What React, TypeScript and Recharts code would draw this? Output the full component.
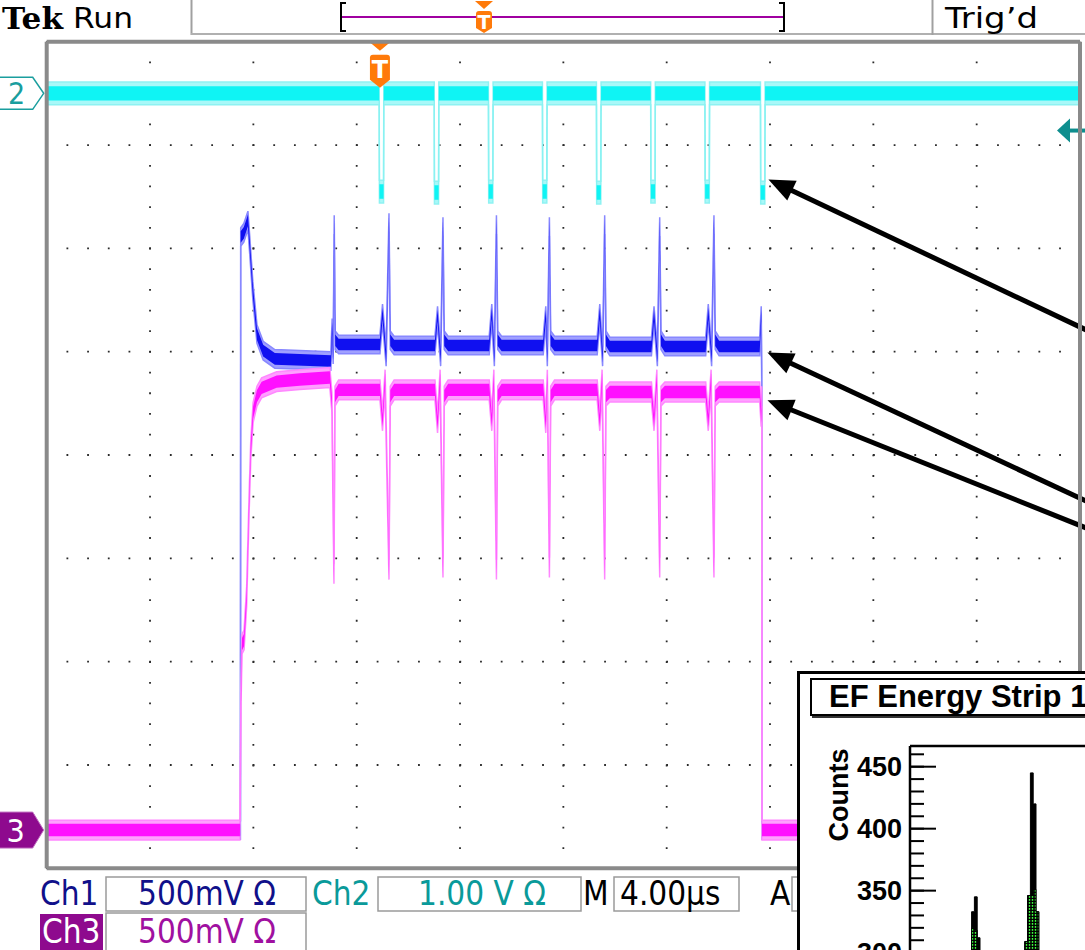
import React from "react";
import { ComposedChart, Area, XAxis, YAxis, CartesianGrid, ReferenceLine } from "recharts";

type Pt = [number, number];

// scope traces: time in µs (4 µs/div), level in volts
// Ch1 / Ch3 at 500 mV/div, Ch2 at 1 V/div
const ch2Trace: Pt[] = [
  [0, 0],
  [12.87, 0], [12.88, -0.95], [13.04, -0.95], [13.05, 0],
  [15.0, 0], [15.01, -0.96], [15.17, -0.96], [15.18, 0],
  [17.1, 0], [17.11, -0.95], [17.27, -0.95], [17.28, 0],
  [19.19, 0], [19.2, -0.95], [19.36, -0.95], [19.37, 0],
  [21.28, 0], [21.29, -0.96], [21.45, -0.96], [21.46, 0],
  [23.38, 0], [23.39, -0.95], [23.55, -0.95], [23.56, 0],
  [25.48, 0], [25.49, -0.95], [25.65, -0.95], [25.66, 0],
  [27.63, 0], [27.64, -0.96], [27.8, -0.96], [27.81, 0],
  [40, 0],
];

const ch1Trace: Pt[] = [
  [0, 0], [7.5, 0],
  [7.51, 2.87], [7.63, 2.89], [7.79, 2.95], [7.86, 2.83], [7.98, 2.61], [8.14, 2.4], [8.38, 2.32], [8.83, 2.28], [11.0, 2.27],
  [11.05, 2.43], [11.09, 2.3], [11.13, 2.93], [11.17, 2.37], [11.3, 2.35],
  [12.9, 2.35], [13.0, 2.5], [13.14, 2.29], [13.25, 2.94], [13.3, 2.37], [13.45, 2.345],
  [15.03, 2.345], [15.13, 2.49], [15.25, 2.29], [15.34, 2.92], [15.39, 2.37], [15.54, 2.345],
  [17.13, 2.345], [17.23, 2.5], [17.33, 2.29], [17.41, 2.93], [17.46, 2.37], [17.61, 2.345],
  [19.22, 2.345], [19.32, 2.49], [19.38, 2.29], [19.46, 2.92], [19.51, 2.37], [19.66, 2.345],
  [21.31, 2.345], [21.41, 2.5], [21.52, 2.29], [21.6, 2.93], [21.65, 2.37], [21.8, 2.34],
  [23.41, 2.34], [23.51, 2.49], [23.64, 2.29], [23.73, 2.92], [23.78, 2.37], [23.93, 2.34],
  [25.51, 2.34], [25.61, 2.5], [25.74, 2.29], [25.83, 2.93], [25.88, 2.37], [26.03, 2.34],
  [27.6, 2.34], [27.66, 2.49], [27.68, 2.19], [27.69, 0], [40, 0],
];

const ch3Trace: Pt[] = [
  [0, 0], [7.48, 0], [7.52, 0.63], [7.56, 0.9], [7.64, 0.92], [7.74, 1.13], [7.84, 1.6], [7.9, 1.84],
  [7.99, 2.02], [8.14, 2.1], [8.32, 2.14], [8.9, 2.17], [9.8, 2.18], [10.96, 2.19],
  [11.04, 2.07], [11.12, 1.24], [11.16, 2.1], [11.3, 2.13],
  [12.9, 2.13], [13.0, 1.98], [13.1, 2.18], [13.25, 1.26], [13.3, 2.1], [13.45, 2.13],
  [15.03, 2.13], [15.13, 1.97], [15.23, 2.18], [15.34, 1.27], [15.39, 2.1], [15.54, 2.13],
  [17.13, 2.13], [17.23, 1.98], [17.31, 2.18], [17.41, 1.26], [17.46, 2.1], [17.61, 2.13],
  [19.22, 2.13], [19.32, 1.97], [19.38, 2.18], [19.46, 1.27], [19.51, 2.1], [19.66, 2.13],
  [21.31, 2.13], [21.41, 1.98], [21.5, 2.18], [21.6, 1.26], [21.65, 2.1], [21.8, 2.12],
  [23.41, 2.12], [23.51, 1.98], [23.62, 2.18], [23.73, 1.27], [23.78, 2.1], [23.93, 2.12],
  [25.51, 2.12], [25.61, 1.98], [25.72, 2.18], [25.83, 1.27], [25.88, 2.1], [26.03, 2.12],
  [27.6, 2.12], [27.66, 2.0], [27.68, 2.1], [27.69, 0], [40, 0],
];

// noise band half-widths (volts)
const ch1Noise = 0.028, ch1Halo = 0.045;
const ch2Noise = 0.07, ch2Halo = 0.11;
const ch3Noise = 0.03, ch3Halo = 0.048;

const trigTime = 12.9;
const trigLevel = -0.36;

// annotation arrows: [tip, tail] in (µs, screen divisions)
const arrows: [Pt, Pt][] = [
  [[27.94, 6.666], [40.75, 5.15]],
  [[27.9, 4.993], [40.75, 3.494]],
  [[27.9, 4.529], [40.75, 3.243]],
];

const timeTicks = [0, 4, 8, 12, 16, 20, 24, 28, 32, 36, 40];
const divTicks = [0, 1, 2, 3, 4, 5, 6, 7, 8];
const minorTimeTicks = Array.from({ length: 51 }, (_, i) => i * 0.8);
const minorDivTicks = Array.from({ length: 41 }, (_, i) => i * 0.2);

// inset histogram
const histBins = [19, 20, 21, 22, 23, 24, 25, 26, 38, 39, 40, 41, 42, 43, 44, 45, 46, 47, 48];
const blackCounts = [255, 262, 285, 333, 345, 312, 280, 258, 250, 262, 282, 309, 346, 445, 420, 333, 292, 268, 252];
const greenCounts = [250, 258, 278, 320, 318, 300, 272, 255, 248, 258, 278, 309, 346, 346, 351, 333, 288, 262, 250];
const countTicks = [250, 300, 350, 400, 450];
const minorCountTicks = Array.from({ length: 22 }, (_, i) => 250 + i * 10);

const band = (pts: Pt[], n: number) => pts.map(([t, v]) => ({ t, r: [v - n, v + n] }));
const blackHist = histBins.map((bin, i) => ({ bin, count: blackCounts[i] }));
const greenHist = histBins.map((bin, i) => ({ bin, count: greenCounts[i] }));

const statusFont = "'DejaVu Sans Condensed', 'DejaVu Sans', sans-serif";

const Ch2Marker = ({ viewBox }: any) => {
  const x = viewBox.x, y = viewBox.y;
  return (
    <g>
      <path d={`M${x - 48},${y - 16} H${x - 14} L${x - 3},${y} L${x - 14},${y + 16} H${x - 48} Z`} fill="#fff" stroke="#1a9e9e" strokeWidth={1.5} />
      <text x={x - 30} y={y + 11} textAnchor="middle" fontSize={30} fill="#1a9e9e" fontFamily={statusFont}>2</text>
    </g>
  );
};

const Ch3Marker = ({ viewBox }: any) => {
  const x = viewBox.x, y = viewBox.y;
  return (
    <g>
      <path d={`M${x - 48},${y - 18} H${x - 14} L${x - 3},${y} L${x - 14},${y + 18} H${x - 48} Z`} fill="#8e0a8e" stroke="#c070c0" strokeWidth={1} />
      <text x={x - 31} y={y + 12} textAnchor="middle" fontSize={32} fill="#fff" fontFamily={statusFont}>3</text>
    </g>
  );
};

const TrigMarker = ({ viewBox }: any) => {
  const x = viewBox.x, y = viewBox.y;
  return (
    <g>
      <path d={`M${x - 12},${y - 1} H${x + 12} L${x},${y + 9} Z`} fill="#ff7a0a" />
      <path d={`M${x - 10},${y + 16} Q${x - 10},${y + 13} ${x - 7},${y + 13} H${x + 7} Q${x + 10},${y + 13} ${x + 10},${y + 16} V${y + 38} L${x},${y + 46} L${x - 10},${y + 38} Z`} fill="#ff7a0a" />
      <text x={x} y={y + 36} textAnchor="middle" fontSize={24} fontWeight={700} fill="#fff" fontFamily="DejaVu Sans">T</text>
    </g>
  );
};

const TrigLevelMarker = ({ viewBox }: any) => {
  const x = viewBox.x + viewBox.width, y = viewBox.y;
  return (
    <g>
      <path d={`M${x - 23},${y} L${x - 10},${y - 12} V${y + 12} Z`} fill="#0e8e8e" />
      <rect x={x - 11} y={y - 2} width={16} height={4} fill="#0e8e8e" />
    </g>
  );
};

const ArrowShape = (p: any) => {
  const { x1, y1, x2, y2 } = p;
  const len = Math.hypot(x2 - x1, y2 - y1);
  const ux = (x2 - x1) / len, uy = (y2 - y1) / len;
  const hl = 26, hw = 11;
  const bx = x1 + ux * hl, by = y1 + uy * hl;
  return (
    <g>
      <line x1={bx - ux * 2} y1={by - uy * 2} x2={x2} y2={y2} stroke="#000" strokeWidth={5} />
      <polygon points={`${x1},${y1} ${bx - uy * hw},${by + ux * hw} ${bx + uy * hw},${by - ux * hw}`} fill="#000" />
    </g>
  );
};

const frameLine = { stroke: "#8a8a8a", strokeWidth: 4 };
const frameTick = { stroke: "#333", strokeWidth: 1.5 };
const frameDots = { stroke: "#222", strokeWidth: 1.5, strokeDasharray: "1.2 2.9" };
const noLabel = () => "";

export default function App() {
  return (
    <div style={{ position: "absolute", left: 0, top: 0, width: 1085, height: 950, overflow: "hidden", background: "#fff" }}>
      <svg width={0} height={0} style={{ position: "absolute" }}>
        <defs>
          <pattern id="greenDots" width="3" height="3" patternUnits="userSpaceOnUse">
            <rect width="3" height="3" fill="#000" />
            <rect x="0.8" y="0" width="1.4" height="1.8" fill="#3cff3c" />
          </pattern>
        </defs>
      </svg>

      <div style={{ position: "absolute", left: 0, top: 0 }}>
        <ComposedChart width={1085} height={950} margin={{ top: 41.7, right: 5, bottom: 81.7, left: 46.7 }}>
          <XAxis xAxisId="t" type="number" dataKey="t" domain={[0, 40]} ticks={timeTicks} hide allowDataOverflow />
          <YAxis yAxisId="div" type="number" domain={[0, 8]} ticks={divTicks} hide allowDataOverflow />
          <YAxis yAxisId="ch1" type="number" domain={[-0.185, 3.815]} hide allowDataOverflow />
          <YAxis yAxisId="ch2" type="number" domain={[-7.5, 0.5]} hide allowDataOverflow />
          <YAxis yAxisId="ch3" type="number" domain={[-0.185, 3.815]} hide allowDataOverflow />

          <CartesianGrid xAxisId="t" yAxisId="div" stroke="#2a2a2a" strokeWidth={1.8} strokeDasharray="1.8 18.88" strokeDashoffset={0.9} />

          <Area xAxisId="t" yAxisId="ch2" data={band(ch2Trace, ch2Halo)} dataKey="r" type="linear" fill="#a8f8f8" fillOpacity={1} stroke="#8ef2f2" strokeWidth={1.5} dot={false} activeDot={false} isAnimationActive={false} />
          <Area xAxisId="t" yAxisId="ch2" data={band(ch2Trace, ch2Noise)} dataKey="r" type="linear" fill="#0ff4f4" fillOpacity={1} stroke="none" dot={false} activeDot={false} isAnimationActive={false} />
          <Area xAxisId="t" yAxisId="ch1" data={band(ch1Trace, ch1Halo)} dataKey="r" type="linear" fill="#a0a0ff" fillOpacity={1} stroke="#8888ff" strokeWidth={1.5} dot={false} activeDot={false} isAnimationActive={false} />
          <Area xAxisId="t" yAxisId="ch1" data={band(ch1Trace, ch1Noise)} dataKey="r" type="linear" fill="#1010f0" fillOpacity={1} stroke="none" dot={false} activeDot={false} isAnimationActive={false} />
          <Area xAxisId="t" yAxisId="ch3" data={band(ch3Trace, ch3Halo)} dataKey="r" type="linear" fill="#ffa0ff" fillOpacity={1} stroke="#ff88ff" strokeWidth={1.5} dot={false} activeDot={false} isAnimationActive={false} />
          <Area xAxisId="t" yAxisId="ch3" data={band(ch3Trace, ch3Noise)} dataKey="r" type="linear" fill="#ff10ff" fillOpacity={1} stroke="none" dot={false} activeDot={false} isAnimationActive={false} />

          <XAxis xAxisId="fb" orientation="bottom" type="number" domain={[0, 40]} ticks={minorTimeTicks} interval={0} mirror height={1} tickSize={5} axisLine={frameLine} tickLine={frameTick} tickFormatter={noLabel} />
          <XAxis xAxisId="ft" orientation="top" type="number" domain={[0, 40]} ticks={minorTimeTicks} interval={0} mirror height={1} tickSize={5} axisLine={frameLine} tickLine={frameTick} tickFormatter={noLabel} />
          <YAxis yAxisId="fl" orientation="left" type="number" domain={[0, 8]} ticks={minorDivTicks} interval={0} mirror width={1} tickSize={5} axisLine={frameLine} tickLine={frameTick} tickFormatter={noLabel} />
          <YAxis yAxisId="fr" orientation="right" type="number" domain={[0, 8]} ticks={minorDivTicks} interval={0} mirror width={1} tickSize={5} axisLine={frameLine} tickLine={frameTick} tickFormatter={noLabel} />

          <ReferenceLine xAxisId="t" yAxisId="div" y={8} {...frameDots} />
          <ReferenceLine xAxisId="t" yAxisId="div" y={0} {...frameDots} />
          <ReferenceLine xAxisId="t" yAxisId="div" x={0} {...frameDots} />
          <ReferenceLine xAxisId="t" yAxisId="div" x={40} {...frameDots} />

          <ReferenceLine xAxisId="t" yAxisId="ch2" y={0} stroke="none" label={<Ch2Marker />} />
          <ReferenceLine xAxisId="t" yAxisId="ch3" y={0} stroke="none" label={<Ch3Marker />} />
          <ReferenceLine xAxisId="t" yAxisId="ch2" y={trigLevel} stroke="none" label={<TrigLevelMarker />} />
          <ReferenceLine xAxisId="t" yAxisId="div" x={trigTime} stroke="none" label={<TrigMarker />} />
          {arrows.map(([tip, tail], i) => (
            <ReferenceLine
              key={i}
              xAxisId="t"
              yAxisId="div"
              segment={[{ x: tip[0], y: tip[1] }, { x: tail[0], y: tail[1] }]}
              ifOverflow="visible"
              shape={ArrowShape}
            />
          ))}
        </ComposedChart>
      </div>

      {/* header and status bar */}
      <svg width={1085} height={950} style={{ position: "absolute", left: 0, top: 0, pointerEvents: "none" }}>
        <text x={2} y={28.5} fontSize={30} fontWeight={700} fontFamily="'DejaVu Serif', serif" textLength={61} lengthAdjust="spacingAndGlyphs">Tek</text>
        <text x={73} y={28} fontSize={29} fontFamily="'DejaVu Sans', sans-serif" textLength={60} lengthAdjust="spacingAndGlyphs">Run</text>
        <line x1={191.5} y1={0} x2={191.5} y2={35} stroke="#a0a0a0" strokeWidth={2} />
        <line x1={191} y1={34} x2={1085} y2={34} stroke="#b0b0b0" strokeWidth={2} />
        <line x1={932.5} y1={0} x2={932.5} y2={35} stroke="#a0a0a0" strokeWidth={2} />
        <path d="M346,3 H341 V31 H346" fill="none" stroke="#000" strokeWidth={2} />
        <path d="M779,3 H784 V31 H779" fill="none" stroke="#000" strokeWidth={2} />
        <line x1={342} y1={17} x2={783} y2={17} stroke="#a000a0" strokeWidth={2} />
        <path d="M475,1 H493 L484,9 Z" fill="#ff7a0a" />
        <path d="M476,14 Q476,11 479,11 H489 Q492,11 492,14 V28 L484,33 L476,28 Z" fill="#ff7a0a" />
        <text x={484} y={29} textAnchor="middle" fontSize={19} fontWeight={700} fill="#fff" fontFamily="DejaVu Sans">T</text>
        <text x={945} y={28} fontSize={29} fontFamily="'DejaVu Sans', sans-serif" textLength={93} lengthAdjust="spacingAndGlyphs">Trig’d</text>

        <text x={40} y={905} fontSize={33} fill="#10108a" fontFamily={statusFont}>Ch1</text>
        <rect x={106} y={877} width={200} height={34} fill="#fff" stroke="#9a9a9a" strokeWidth={1.5} />
        <text x={138} y={905} fontSize={33} fill="#10108a" fontFamily={statusFont}>500mV Ω</text>
        <text x={312} y={905} fontSize={33} fill="#0a9a9a" fontFamily={statusFont}>Ch2</text>
        <rect x={378} y={877} width={203} height={34} fill="#fff" stroke="#9a9a9a" strokeWidth={1.5} />
        <text x={418} y={905} fontSize={33} fill="#0a9a9a" fontFamily={statusFont}>1.00 V Ω</text>
        <text x={583} y={905} fontSize={33} fill="#000" fontFamily={statusFont}>M</text>
        <rect x={614} y={877} width={125} height={34} fill="#fff" stroke="#9a9a9a" strokeWidth={1.5} />
        <text x={620} y={905} fontSize={33} fill="#000" fontFamily={statusFont}>4.00µs</text>
        <text x={770} y={905} fontSize={33} fill="#000" fontFamily={statusFont}>A</text>
        <rect x={792} y={877} width={120} height={34} fill="#fff" stroke="#9a9a9a" strokeWidth={1.5} />

        <rect x={40} y={914} width={63} height={36} fill="#8e0a8e" />
        <text x={42} y={943} fontSize={33} fill="#fff" fontFamily={statusFont}>Ch3</text>
        <rect x={106} y={913} width={200} height={40} fill="#fff" stroke="#9a9a9a" strokeWidth={1.5} />
        <text x={138} y={943} fontSize={33} fill="#a010a0" fontFamily={statusFont}>500mV Ω</text>
      </svg>

      {/* inset histogram */}
      <div style={{ position: "absolute", left: 797, top: 671, width: 420, height: 420, border: "3px solid #000", background: "#fff", boxSizing: "border-box" }}>
        <div
          style={{
            position: "absolute", left: 10, top: 4, width: 320, height: 38, border: "2px solid #000",
            boxShadow: "2px 2px 0 #333", background: "#fff", boxSizing: "border-box",
            fontFamily: "'Liberation Sans', Arial, sans-serif", fontWeight: 700, fontSize: 31, lineHeight: "34px",
            paddingLeft: 17, whiteSpace: "nowrap",
          }}
        >
          EF Energy Strip 1
        </div>
        <div
          style={{
            position: "absolute", left: 39, top: 121, transform: "translate(-50%, -50%) rotate(-90deg)",
            fontFamily: "'Liberation Sans', Arial, sans-serif", fontWeight: 700, fontSize: 27, whiteSpace: "nowrap",
          }}
        >
          Counts
        </div>
        <div style={{ position: "absolute", left: 0, top: 0 }}>
          <ComposedChart width={390} height={363} margin={{ top: 72, right: 0, bottom: 10, left: 0 }}>
            <XAxis xAxisId="e" type="number" dataKey="bin" domain={[0, 100]} hide allowDataOverflow />
            <XAxis xAxisId="top" orientation="top" type="number" domain={[0, 100]} mirror height={1} tick={false} tickLine={false} axisLine={{ stroke: "#000", strokeWidth: 2.5 }} />
            <YAxis
              yAxisId="c" type="number" domain={[240, 466.7]} ticks={countTicks} interval={0} width={110}
              tickLine={false} axisLine={{ stroke: "#000", strokeWidth: 2.5 }} allowDataOverflow
              tick={{ fill: "#000", fontSize: 27, fontWeight: 700, fontFamily: "'Liberation Sans', Arial, sans-serif" }}
            />
            <YAxis yAxisId="cMinor" type="number" domain={[240, 466.7]} ticks={minorCountTicks} interval={0} mirror width={1} tickSize={13} axisLine={false} tickLine={{ stroke: "#000", strokeWidth: 2 }} tickFormatter={noLabel} allowDataOverflow />
            <YAxis yAxisId="cMajor" type="number" domain={[240, 466.7]} ticks={countTicks} interval={0} mirror width={1} tickSize={26} axisLine={false} tickLine={{ stroke: "#000", strokeWidth: 2 }} tickFormatter={noLabel} allowDataOverflow />
            <Area xAxisId="e" yAxisId="c" type="stepAfter" data={blackHist} dataKey="count" fill="#000" fillOpacity={1} stroke="#000" strokeWidth={1} dot={false} activeDot={false} isAnimationActive={false} />
            <Area xAxisId="e" yAxisId="c" type="stepAfter" data={greenHist} dataKey="count" fill="url(#greenDots)" fillOpacity={1} stroke="#000" strokeWidth={1} dot={false} activeDot={false} isAnimationActive={false} />
          </ComposedChart>
        </div>
      </div>
    </div>
  );
}
